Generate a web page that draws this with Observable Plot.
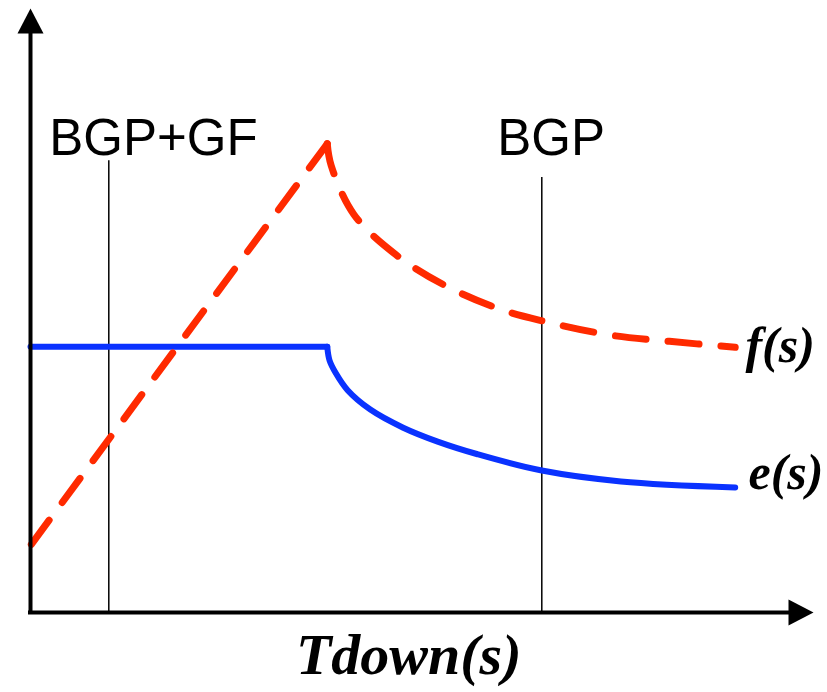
<!DOCTYPE html>
<html>
<head>
<meta charset="utf-8">
<script src="https://cdn.jsdelivr.net/npm/d3@7"></script>
<script src="https://cdn.jsdelivr.net/npm/@observablehq/plot@0.6"></script>
<style>
  html, body { margin: 0; padding: 0; background: #fff; }
</style>
</head>
<body>
<div id="chart"></div>
<script>
// f(s): red dashed curve (axis units 0..100)
const fRiseX = [0, 18.5, 37.9];
const fRiseY = [11.1, 43.6, 77.6];
const fDecayX = [37.9, 38.4, 41.3, 46.6, 53.0, 59.8, 65.3, 74.2, 81.6, 90.0];
const fDecayY = [77.6, 74.0, 65.9, 59.3, 54.1, 50.3, 48.3, 45.9, 44.9, 43.9];
// e(s): blue solid curve
const eFlatX = [0, 37.9];
const eFlatY = [44.0, 44.0];
const eDecayX = [37.9, 38.2, 39.0, 40.5, 43.4, 47.6, 52.0, 57.1, 65.3, 75.4, 90.0];
const eDecayY = [44.0, 41.7, 39.6, 36.8, 33.6, 30.6, 28.3, 26.2, 23.5, 21.7, 20.7];
// vertical markers
const markerNames = ["BGP+GF", "BGP"];
const markerX = [10, 65.3];
const markerTop = [74.8, 72.0];
const markerLabelX = [15.7, 66.5];
const markerLabelY = [75.7, 75.7];
// series labels
const seriesNames = ["f(s)", "e(s)"];
const seriesLabelX = [91.3, 91.7];
const seriesLabelY = [41.4, 20.5];
const xTitle = "Tdown(s)";

const toPts = (xs, ys) => xs.map((x, i) => ({x, y: ys[i]}));
const fRise = toPts(fRiseX, fRiseY).reverse(); // drawn from the peak down so a dash meets the peak
const fDecay = toPts(fDecayX, fDecayY);
const eFlat = toPts(eFlatX, eFlatY);
const eDecay = toPts(eDecayX, eDecayY);
const markers = markerNames.map((name, i) => ({name, x: markerX[i], top: markerTop[i], lx: markerLabelX[i], ly: markerLabelY[i]}));
const seriesLabels = seriesNames.map((name, i) => ({name, x: seriesLabelX[i], y: seriesLabelY[i]}));

const arrowHead = {
  draw(context) {
    context.moveTo(0, 0);
    context.lineTo(-13, 25);
    context.lineTo(13, 25);
    context.closePath();
  }
};

const red = "#ff2a00", blue = "#0a32ff";
const serif = "Liberation Serif, Times New Roman, serif";

const chart = Plot.plot({
  width: 827,
  height: 692,
  marginLeft: 30,
  marginRight: 14,
  marginTop: 8,
  marginBottom: 80,
  x: {domain: [0, 100], axis: null},
  y: {domain: [0, 100], axis: null},
  style: {background: "#fff", fontFamily: "Liberation Sans, Arial, sans-serif"},
  marks: [
    // marker lines
    Plot.ruleX(markers, {x: "x", y1: 0, y2: "top", stroke: "black", strokeWidth: 1.5}),
    // e(s)
    Plot.line(eFlat, {x: "x", y: "y", stroke: blue, strokeWidth: 6, curve: "linear"}),
    Plot.line(eDecay, {x: "x", y: "y", stroke: blue, strokeWidth: 6, curve: "catmull-rom"}),
    // f(s)
    Plot.line(fRise, {x: "x", y: "y", stroke: red, strokeWidth: 7, strokeDasharray: "30,22", curve: "linear"}),
    Plot.line(fDecay, {x: "x", y: "y", stroke: red, strokeWidth: 7, strokeDasharray: "31,22", curve: "catmull-rom"}),
    // axes with arrows
    Plot.ruleX([0], {y1: 0, y2: 96, stroke: "black", strokeWidth: 4, strokeLinecap: "square"}),
    Plot.ruleY([0], {x1: 0, x2: 97, stroke: "black", strokeWidth: 4, strokeLinecap: "square"}),
    Plot.dot([{x: 0, y: 100}], {x: "x", y: "y", symbol: arrowHead, fill: "black", stroke: "none", r: 10}),
    Plot.dot([{x: 100, y: 0}], {x: "x", y: "y", symbol: arrowHead, fill: "black", stroke: "none", r: 10, rotate: 90}),
    // marker labels
    Plot.text(markers, {x: "lx", y: "ly", text: "name", fontSize: 51, fill: "black", lineAnchor: "bottom", textAnchor: "middle", fontFamily: "Liberation Sans, Arial, sans-serif"}),
    // series labels
    Plot.text(seriesLabels, {x: "x", y: "y", text: "name", fontSize: 50, fill: "black", lineAnchor: "bottom", textAnchor: "start", fontFamily: serif, fontStyle: "italic", fontWeight: "bold"}),
    // x title
    Plot.text([xTitle], {x: 48.3, y: -10.1, text: d => d, fontSize: 58, fill: "black", lineAnchor: "bottom", textAnchor: "middle", fontFamily: serif, fontStyle: "italic", fontWeight: "bold"})
  ]
});

document.getElementById("chart").appendChild(chart);
</script>
</body>
</html>
